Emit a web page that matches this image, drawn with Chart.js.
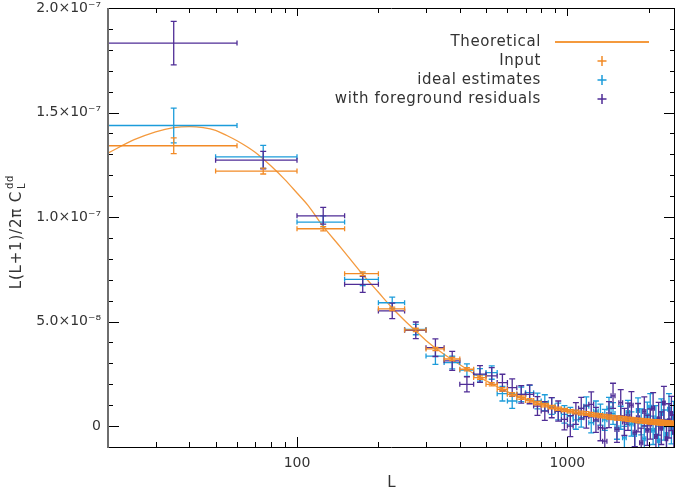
<!DOCTYPE html>
<html>
<head>
<meta charset="utf-8">
<script src="https://cdn.jsdelivr.net/npm/chart.js@4.4.1/dist/chart.umd.min.js"></script>
<style>
  html, body { margin: 0; padding: 0; background: #fff; }
  #wrap { width: 677px; height: 493px; position: relative; }
</style>
</head>
<body>
<div id="wrap"><canvas id="chartLensing"></canvas></div>
<script>
// values are in units of 1e-8
const SCALE = 1e-8;

const binCenter = [35, 75, 125, 175, 225, 275, 325, 375, 425, 475, 525, 575, 625, 675, 725, 775, 825, 875, 925, 975,
  1025, 1075, 1125, 1175, 1225, 1275, 1325, 1375, 1425, 1475, 1525, 1575, 1625, 1675, 1725, 1775, 1825, 1875, 1925, 1975,
  2025, 2075, 2125, 2175, 2225, 2275, 2325, 2375, 2425, 2475];
const binLow = [10, 50, 100, 150, 200, 250, 300, 350, 400, 450, 500, 550, 600, 650, 700, 750, 800, 850, 900, 950,
  1000, 1050, 1100, 1150, 1200, 1250, 1300, 1350, 1400, 1450, 1500, 1550, 1600, 1650, 1700, 1750, 1800, 1850, 1900, 1950,
  2000, 2050, 2100, 2150, 2200, 2250, 2300, 2350, 2400, 2450];
const binHigh = [60, 100, 150, 200, 250, 300, 350, 400, 450, 500, 550, 600, 650, 700, 750, 800, 850, 900, 950, 1000,
  1050, 1100, 1150, 1200, 1250, 1300, 1350, 1400, 1450, 1500, 1550, 1600, 1650, 1700, 1750, 1800, 1850, 1900, 1950, 2000,
  2050, 2100, 2150, 2200, 2250, 2300, 2350, 2400, 2450, 2500];

const inputVal = [13.41, 12.20, 9.44, 7.29, 5.61, 4.60, 3.69, 3.21, 2.72, 2.32, 2.00, 1.76, 1.52, 1.36, 1.23, 1.10, 1.00, 0.91, 0.83, 0.77,
  0.71, 0.67, 0.63, 0.60, 0.56, 0.53, 0.50, 0.47, 0.44, 0.41, 0.39, 0.37, 0.35, 0.33, 0.31, 0.29, 0.27, 0.26, 0.24, 0.23,
  0.21, 0.20, 0.19, 0.18, 0.16, 0.15, 0.14, 0.13, 0.12, 0.11];
const inputErr = [0.38, 0.14, 0.10, 0.09, 0.08, 0.08, 0.08, 0.08, 0.08, 0.08, 0.08, 0.08, 0.08, 0.08, 0.08, 0.08, 0.08, 0.08, 0.08, 0.08,
  0.08, 0.09, 0.09, 0.09, 0.09, 0.09, 0.09, 0.09, 0.10, 0.10, 0.10, 0.10, 0.10, 0.10, 0.10, 0.10, 0.11, 0.11, 0.11, 0.11,
  0.11, 0.11, 0.12, 0.12, 0.12, 0.12, 0.12, 0.12, 0.12, 0.12];

const idealVal = [14.38, 12.88, 9.76, 7.02, 5.90, 4.62, 3.35, 3.04, 2.68, 2.45, 2.56, 1.55, 1.20, 1.52, 1.60, 1.20, 1.12, 0.96, 0.70, 0.56,
  0.48, 0.30, 0.40, 0.95, 0.16, 0.72, 0.55, 0.30, 0.85, 0.60, -0.08, 0.40, -0.56, 0.65, 0.10, -0.40, 0.75, 0.20, -0.60, 0.50,
  0.90, -0.20, 0.30, -0.70, 0.60, 0.05, -0.40, 0.80, -0.10, 0.40];
const idealErr = [0.83, 0.55, 0.30, 0.30, 0.27, 0.25, 0.40, 0.30, 0.30, 0.30, 0.32, 0.35, 0.35, 0.35, 0.35, 0.38, 0.38, 0.40, 0.40, 0.42,
  0.42, 0.45, 0.45, 0.45, 0.48, 0.48, 0.50, 0.50, 0.52, 0.52, 0.55, 0.55, 0.55, 0.58, 0.58, 0.60, 0.60, 0.62, 0.62, 0.65,
  0.65, 0.68, 0.68, 0.70, 0.70, 0.72, 0.72, 0.75, 0.75, 0.78];

const foregroundVal = [18.32, 12.72, 10.06, 6.78, 5.51, 4.58, 3.75, 3.12, 2.00, 2.49, 2.40, 2.08, 1.84, 1.52, 1.52, 0.96, 0.72, 0.88, 0.72, 0.32,
  0.00, 0.60, 0.85, 0.45, 1.04, 0.30, -0.08, -0.72, 0.55, 1.45, -0.16, 1.12, 0.20, 0.45, 1.00, -0.30, 0.40, -0.80, 0.70, -0.20,
  0.10, 0.85, -0.50, 0.35, -0.10, 1.10, -0.60, 0.25, 0.60, -0.30];
const foregroundErr = [1.04, 0.42, 0.40, 0.38, 0.37, 0.40, 0.42, 0.45, 0.36, 0.40, 0.40, 0.40, 0.42, 0.42, 0.45, 0.45, 0.45, 0.48, 0.48, 0.50,
  0.50, 0.52, 0.52, 0.55, 0.60, 0.60, 0.62, 0.62, 0.62, 0.60, 0.62, 0.62, 0.65, 0.65, 0.65, 0.68, 0.68, 0.70, 0.70, 0.72,
  0.72, 0.75, 0.75, 0.78, 0.78, 0.80, 0.80, 0.82, 0.82, 0.85];

const theoryL = [20, 25, 30, 35, 40, 45, 50, 55, 60, 70, 80, 90, 100, 110, 125, 145, 175, 200, 225, 250, 275, 300, 325,
  375, 425, 475, 525, 575, 625, 700, 800, 900, 1000, 1200, 1500, 2000, 2500];
const theoryVal = [13.06, 13.70, 14.08, 14.28, 14.33, 14.28, 14.15, 13.90, 13.65, 13.10, 12.45, 11.80, 11.15, 10.55, 9.55, 8.55, 7.25,
  6.40, 5.65, 5.05, 4.55, 4.10, 3.74, 3.17, 2.72, 2.33, 2.02, 1.76, 1.54, 1.28, 1.05, 0.88, 0.74, 0.55, 0.38, 0.21, 0.11];

const yTickValues = [0, 5e-8, 1e-7, 1.5e-7, 2e-7];
const yTickLabels = ['0', '5.0×10⁻⁸', '1.0×10⁻⁷', '1.5×10⁻⁷', '2.0×10⁻⁷'];
const xTickValues = [100, 1000];
const xTickLabels = ['100', '1000'];
const xMinorTicks = [20, 30, 40, 50, 60, 70, 80, 90, 200, 300, 400, 500, 600, 700, 800, 900, 2000];

const legendLabels = ['Theoretical', 'Input', 'ideal estimates', 'with foreground residuals'];

const COL_THEORY = '#F49A3E';
const COL_INPUT = '#F28A26';
const COL_IDEAL = '#1C9CDA';
const COL_FG = '#4F2D96';
const FONT = "'DejaVu Sans', sans-serif";

function buildPoints(vals, errs) {
  return vals.map(function(v, i) {
    return {
      x: binCenter[i], y: v * SCALE,
      xMin: binLow[i], xMax: binHigh[i],
      yMin: (v - errs[i]) * SCALE, yMax: (v + errs[i]) * SCALE
    };
  });
}

// error crosses, drawn through the chart scales
const errorBarPlugin = {
  id: 'errorBars',
  afterDatasetsDraw(chart) {
    const { ctx, chartArea } = chart;
    const xs = chart.scales.x, ys = chart.scales.y;
    ctx.save();
    ctx.beginPath();
    ctx.rect(chartArea.left, chartArea.top, chartArea.right - chartArea.left, chartArea.bottom - chartArea.top);
    ctx.clip();
    chart.data.datasets.forEach(function(ds) {
      if (!ds.errorBars) return;
      ctx.strokeStyle = ds.borderColor;
      ctx.lineWidth = 1.3;
      ds.data.forEach(function(p) {
        const px = xs.getPixelForValue(p.x), py = ys.getPixelForValue(p.y);
        const x0 = xs.getPixelForValue(p.xMin), x1 = xs.getPixelForValue(p.xMax);
        const y0 = ys.getPixelForValue(p.yMin), y1 = ys.getPixelForValue(p.yMax);
        ctx.beginPath();
        ctx.moveTo(x0, py); ctx.lineTo(x1, py);
        ctx.moveTo(x0, py - 2.5); ctx.lineTo(x0, py + 2.5);
        ctx.moveTo(x1, py - 2.5); ctx.lineTo(x1, py + 2.5);
        ctx.moveTo(px, y0); ctx.lineTo(px, y1);
        ctx.moveTo(px - 3, y0); ctx.lineTo(px + 3, y0);
        ctx.moveTo(px - 3, y1); ctx.lineTo(px + 3, y1);
        ctx.stroke();
      });
    });
    ctx.restore();
  }
};

// frame, inward ticks, axis titles, legend
const framePlugin = {
  id: 'frame',
  afterDraw(chart) {
    const { ctx, chartArea } = chart;
    const xs = chart.scales.x, ys = chart.scales.y;
    const L = chartArea.left, R = chartArea.right, T = chartArea.top, B = chartArea.bottom;
    ctx.save();

    ctx.strokeStyle = '#000';
    ctx.lineWidth = 1;
    ctx.beginPath();
    ctx.moveTo(L, T + 0.5); ctx.lineTo(R, T + 0.5);
    ctx.moveTo(L, B + 0.5); ctx.lineTo(R, B + 0.5);
    ctx.moveTo(R - 0.5, T); ctx.lineTo(R - 0.5, B);
    // y ticks
    for (let v = -1; v <= 20; v++) {
      const py = Math.round(ys.getPixelForValue(v * SCALE)) + 0.5;
      const len = (v % 5 === 0) ? 11 : 5;
      ctx.moveTo(L, py); ctx.lineTo(L + len, py);
      ctx.moveTo(R, py); ctx.lineTo(R - len, py);
    }
    // x ticks
    xTickValues.forEach(function(v) {
      const px = Math.round(xs.getPixelForValue(v)) + 0.5;
      ctx.moveTo(px, B); ctx.lineTo(px, B - 10);
      ctx.moveTo(px, T); ctx.lineTo(px, T + 8);
    });
    xMinorTicks.forEach(function(v) {
      const px = Math.round(xs.getPixelForValue(v)) + 0.5;
      ctx.moveTo(px, B); ctx.lineTo(px, B - 5);
      ctx.moveTo(px, T); ctx.lineTo(px, T + 5);
    });
    ctx.stroke();

    ctx.strokeStyle = '#6E6E6E';
    ctx.lineWidth = 2;
    ctx.beginPath();
    ctx.moveTo(L, T); ctx.lineTo(L, B + 1);
    ctx.stroke();

    // x title
    ctx.fillStyle = '#333';
    ctx.font = '15px ' + FONT;
    ctx.textAlign = 'center';
    ctx.textBaseline = 'middle';
    ctx.fillText('L', (L + R) / 2, 483);

    // y title with sub/superscript
    ctx.save();
    ctx.letterSpacing = '0.8px';
    ctx.translate(21, 232);
    ctx.rotate(-Math.PI / 2);
    ctx.textAlign = 'left';
    ctx.textBaseline = 'alphabetic';
    const main = 'L(L+1)/2π C';
    ctx.font = '15px ' + FONT;
    const wMain = ctx.measureText(main).width;
    ctx.font = '10px ' + FONT;
    const wSub = Math.max(ctx.measureText('L').width, ctx.measureText('dd').width);
    const x0 = -(wMain + 2 + wSub) / 2;
    ctx.font = '15px ' + FONT;
    ctx.fillText(main, x0, 0);
    ctx.font = '10px ' + FONT;
    ctx.fillText('L', x0 + wMain + 2, 4);
    ctx.fillText('dd', x0 + wMain + 2, -8);
    ctx.restore();

    // legend
    const rows = [42, 61, 80, 99];
    ctx.save();
    ctx.letterSpacing = '0.6px';
    ctx.font = '15px ' + FONT;
    ctx.textAlign = 'right';
    ctx.textBaseline = 'middle';
    ctx.fillStyle = '#333';
    legendLabels.forEach(function(t, i) { ctx.fillText(t, 541, rows[i]); });
    ctx.restore();
    ctx.strokeStyle = COL_THEORY;
    ctx.lineWidth = 2;
    ctx.beginPath();
    ctx.moveTo(555, rows[0]); ctx.lineTo(649, rows[0]);
    ctx.stroke();
    [COL_INPUT, COL_IDEAL, COL_FG].forEach(function(c, i) {
      const cy = rows[i + 1], cx = 602;
      ctx.strokeStyle = c;
      ctx.lineWidth = 1.5;
      ctx.beginPath();
      ctx.moveTo(cx - 4.5, cy); ctx.lineTo(cx + 4.5, cy);
      ctx.moveTo(cx, cy - 5); ctx.lineTo(cx, cy + 5);
      ctx.stroke();
    });

    ctx.restore();
  }
};

const ctxEl = document.getElementById('chartLensing');
new Chart(ctxEl, {
  type: 'scatter',
  data: {
    datasets: [
      {
        type: 'line',
        label: 'Theoretical',
        data: theoryL.map(function(l, i) { return { x: l, y: theoryVal[i] * SCALE }; }),
        borderColor: COL_THEORY,
        borderWidth: 1.3,
        pointRadius: 0,
        cubicInterpolationMode: 'monotone',
        fill: false
      },
      { label: 'ideal estimates', data: buildPoints(idealVal, idealErr), borderColor: COL_IDEAL, pointRadius: 0, errorBars: true },
      { label: 'with foreground residuals', data: buildPoints(foregroundVal, foregroundErr), borderColor: COL_FG, pointRadius: 0, errorBars: true },
      { label: 'Input', data: buildPoints(inputVal, inputErr), borderColor: COL_INPUT, pointRadius: 0, errorBars: true }
    ]
  },
  options: {
    responsive: true,
    maintainAspectRatio: false,
    animation: false,
    layout: { padding: { top: 8, right: 2, left: 0, bottom: 0 } },
    plugins: {
      legend: { display: false },
      tooltip: { enabled: false }
    },
    scales: {
      x: {
        type: 'logarithmic',
        min: 20,
        max: 2500,
        grid: { display: false, drawTicks: false },
        border: { display: false },
        afterBuildTicks: function(scale) { scale.ticks = xTickValues.map(function(v) { return { value: v }; }); },
        afterFit: function(scale) {
          scale.height = 46;
          scale.paddingLeft = 0; scale.paddingRight = 0;
        },
        ticks: {
          autoSkip: false,
          maxRotation: 0,
          padding: 8,
          color: '#333',
          font: { family: FONT, size: 14 },
          callback: function(v, i) { return xTickLabels[i]; }
        }
      },
      y: {
        type: 'linear',
        min: -1e-8,
        max: 2e-7,
        grid: { display: false, drawTicks: false },
        border: { display: false },
        afterBuildTicks: function(scale) { scale.ticks = yTickValues.map(function(v) { return { value: v }; }); },
        afterFit: function(scale) {
          scale.width = 108;
          scale.paddingTop = 0; scale.paddingBottom = 0;
        },
        ticks: {
          padding: 7,
          color: '#333',
          font: { family: FONT, size: 14 },
          callback: function(v, i) { return yTickLabels[i]; }
        }
      }
    }
  },
  plugins: [errorBarPlugin, framePlugin]
});
</script>
</body>
</html>
